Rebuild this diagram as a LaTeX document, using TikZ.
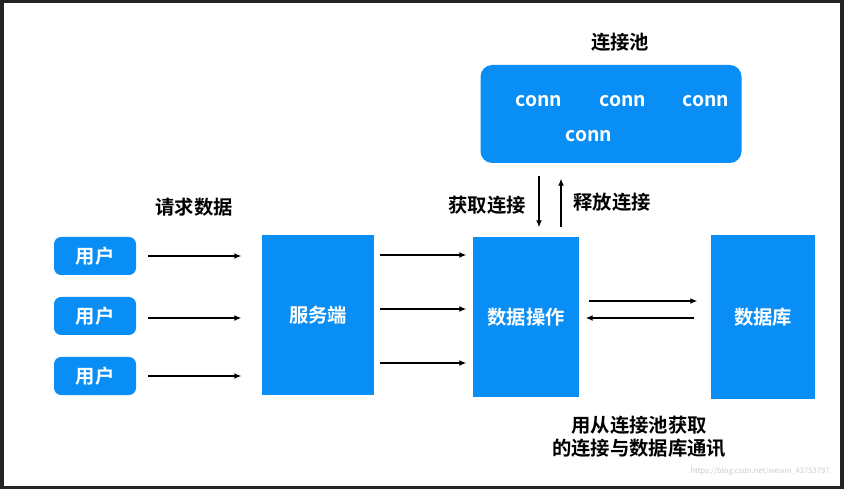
\documentclass[tikz,border=0pt]{standalone}
\usepackage{fontspec}
\setmainfont{Noto Sans CJK SC}[BoldFont={Noto Sans CJK SC Bold}]
\usetikzlibrary{positioning,arrows.meta}
\definecolor{boxblue}{RGB}{8,142,245}
\definecolor{framegray}{RGB}{36,36,36}
\begin{document}
\begin{tikzpicture}[x=0.03cm,y=-0.03cm,line width=1.1pt,>={Latex[length=6pt,width=5pt]}]
  \tikzset{every node/.style={font=\bfseries\fontsize{16.5}{18}\selectfont}}
  \tikzset{user/.style={fill=boxblue,text=white,rounded corners=6pt,minimum width=82*0.03cm,minimum height=38*0.03cm}}
  \tikzset{block/.style={fill=boxblue,text=white,minimum width=#1*0.03cm,minimum height=160*0.03cm}}
  % frame
  \fill[framegray] (0,0) rectangle (844,489);
  \fill[white] (4,3) rectangle (840,486);

  % users and blocks
  \node[user] (u1) at (95,256) {用户};
  \node[user] (u2) at (95,316) {用户};
  \node[user] (u3) at (95,376) {用户};
  \node[block=112] (srv) at (318,315) {服务端};
  \node[block=106] (op) at (526,317) {数据操作};
  \node[block=104,minimum height=164*0.03cm] (db) at (763,317) {数据库};

  % pool
  \node[fill=boxblue,rounded corners=10pt,minimum width=261*0.03cm,minimum height=98*0.03cm] (pool) at (611,114) {};
  \node (pooltitle) at (620,42) {连接池};
  \node[text=white] (c1) at (539,101) {conn};
  \node[text=white] (c2) at (623,101) {conn};
  \node[text=white] (c3) at (706,101) {conn};
  \node[text=white] (c4) at (589,136) {conn};

  % labels
  \node (req) at (194,207) {请求数据};
  \node (get) at (487,205) {获取连接};
  \node (rel) at (612,202) {释放连接};
  \node[align=center,font=\bfseries\fontsize{16.5}{20}\selectfont] (note) at (639,437) {用从连接池获取\\的连接与数据库通讯};
  \node[text=black!20,font=\fontsize{6.5}{7}\selectfont] (mark) at (760,471) {https://blog.csdn.net/weixin\_43753797};

  % arrows
  \foreach \u/\y in {u1/256,u2/318,u3/376}
    \draw[->] ([xshift=11*0.03cm]\u.east |- 0,\y) -- ([xshift=-20*0.03cm]srv.west |- 0,\y);
  \foreach \y in {255,309,363}
    \draw[->] ([xshift=5*0.03cm]srv.east |- 0,\y) -- ([xshift=-6*0.03cm]op.west |- 0,\y);
  \draw[->] ([xshift=9*0.03cm]op.east |- 0,301) -- ([xshift=-13*0.03cm]db.west |- 0,301);
  \draw[->] ([xshift=-16*0.03cm]db.west |- 0,318) -- ([xshift=6*0.03cm]op.east |- 0,318);
  \draw[->] ([yshift=-12*0.03cm]pool.south -| 539,0) -- ([yshift=9*0.03cm]op.north -| 539,0);
  \draw[->] ([yshift=9*0.03cm]op.north -| 561,0) -- ([yshift=-15*0.03cm]pool.south -| 561,0);
\end{tikzpicture}
\end{document}
